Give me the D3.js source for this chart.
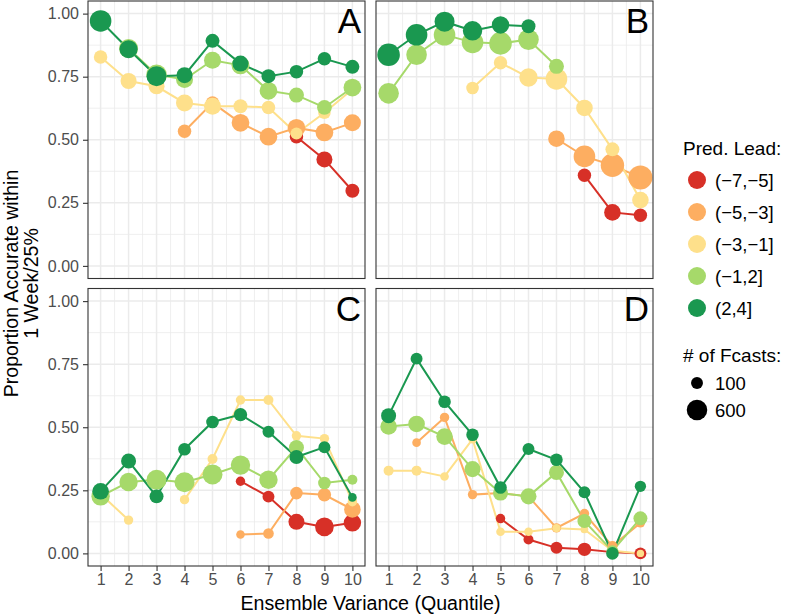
<!DOCTYPE html>
<html>
<head>
<meta charset="utf-8">
<script src="https://cdn.jsdelivr.net/npm/d3@7"></script>
<style>
  html, body { margin: 0; padding: 0; background: #fff; }
  svg { display: block; font-family: "Liberation Sans", Arial, Helvetica, sans-serif; }
</style>
</head>
<body>
<svg id="chart" width="785" height="616"></svg>
<script>
// ---------------- data ----------------
const quantiles = [1, 2, 3, 4, 5, 6, 7, 8, 9, 10];
const leads = ["(\u22127,\u22125]", "(\u22125,\u22123]", "(\u22123,\u22121]", "(\u22121,2]", "(2,4]"];
const leadColors = ["#d73027", "#fdae61", "#fee08b", "#a6d96a", "#1a9850"];
const panelLabels = ["A", "B", "C", "D"];
const yTicks = [0, 0.25, 0.5, 0.75, 1];
const sizeLegend = [100, 600];
const N = null;

// accuracy per lead (rows) x quantile (columns)
const accA = [
  [N, N, N, N, N, N, N, 0.512, 0.422, 0.298],
  [N, N, N, 0.534, 0.646, 0.567, 0.512, 0.547, 0.529, 0.567],
  [0.828, 0.733, 0.712, 0.646, 0.633, 0.633, 0.628, 0.525, 0.607, 0.700],
  [N, 0.862, 0.758, 0.739, 0.815, 0.795, 0.694, 0.677, 0.628, 0.707],
  [0.971, 0.859, 0.752, 0.756, 0.892, 0.802, 0.752, 0.770, 0.821, 0.789]
];
const nA = [
  [N, N, N, N, N, N, N, 160, 285, 180],
  [N, N, N, 160, 160, 390, 390, 390, 390, 345],
  [160, 285, 285, 345, 345, 180, 160, 100, 120, 120],
  [N, 480, 600, 345, 345, 400, 390, 230, 215, 390],
  [690, 410, 555, 285, 180, 285, 180, 160, 160, 180]
];
const accB = [
  [N, N, N, N, N, N, N, 0.359, 0.212, 0.201],
  [N, N, N, N, N, N, 0.504, 0.434, 0.399, 0.350],
  [N, N, N, 0.705, 0.805, 0.747, 0.741, 0.626, 0.462, 0.261],
  [0.684, 0.837, 0.916, 0.886, 0.882, 0.897, 0.791, N, N, N],
  [0.837, 0.916, 0.968, 0.932, 0.955, 0.950, N, N, N, N]
];
const nB = [
  [N, N, N, N, N, N, N, 155, 318, 155],
  [N, N, N, N, N, N, 318, 690, 858, 918],
  [N, N, N, 123, 155, 436, 690, 318, 180, 318],
  [604, 604, 690, 690, 780, 604, 230, N, N, N],
  [780, 690, 555, 510, 368, 180, N, N, N, N]
];
const accC = [
  [N, N, N, N, N, 0.286, 0.225, 0.125, 0.105, 0.121],
  [N, N, N, N, N, 0.075, 0.079, 0.239, 0.232, 0.174],
  [0.235, 0.132, N, 0.213, 0.374, 0.608, 0.608, 0.466, 0.455, 0.205],
  [0.226, 0.283, 0.292, 0.282, 0.313, 0.350, 0.292, 0.420, 0.279, 0.292],
  [0.246, 0.366, 0.226, 0.413, 0.521, 0.550, 0.482, 0.382, 0.421, 0.222]
];
const nC = [
  [N, N, N, N, N, 33, 100, 285, 450, 368],
  [N, N, N, N, N, 19, 60, 123, 155, 318],
  [45, 33, N, 33, 45, 33, 45, 33, 33, 33],
  [436, 436, 555, 555, 555, 510, 436, 230, 123, 45],
  [318, 230, 180, 123, 123, 155, 100, 180, 100, 19]
];
const accD = [
  [N, N, N, N, 0.138, 0.055, 0.022, 0.016, 0.005, 0.000],
  [N, 0.439, 0.539, 0.233, 0.239, 0.226, 0.101, 0.158, 0.029, 0.121],
  [0.328, 0.328, 0.305, 0.453, 0.086, 0.086, 0.100, 0.095, 0.010, 0.000],
  [0.503, 0.513, 0.463, 0.334, 0.239, 0.226, 0.321, 0.128, 0.009, 0.139],
  [0.546, 0.772, 0.601, 0.470, 0.261, 0.414, 0.371, 0.242, 0.000, 0.266]
];
const nD = [
  [N, N, N, N, 33, 45, 100, 155, 80, 100],
  [N, 19, 33, 33, 33, 33, 33, 33, 45, 33],
  [45, 45, 19, 25, 19, 19, 15, 8, 12, 6],
  [318, 318, 318, 285, 230, 285, 230, 180, 100, 180],
  [230, 100, 123, 123, 123, 100, 123, 100, 123, 80]
];

// ---------------- layout ----------------
const svg = d3.select("#chart");
const panelW = 277, panelH = 277.5;
const colX = [88, 376], rowY = [1, 288.5];
const panels = [
  { acc: accA, n: nA, col: 0, row: 0 },
  { acc: accB, n: nB, col: 1, row: 0 },
  { acc: accC, n: nC, col: 0, row: 1 },
  { acc: accD, n: nD, col: 1, row: 1 }
];
const rScale = d3.scalePow().exponent(0.5).domain([0, 800]).range([3, 11.4]);
const gridCol = "#ebebeb";
const tickTextCol = "#4d4d4d";

panels.forEach((p, pi) => {
  const x0 = colX[p.col], y0 = rowY[p.row];
  const x = d3.scaleLinear().domain([0.55, 10.45]).range([x0, x0 + panelW]);
  const y = d3.scaleLinear().domain([-0.05, 1.05]).range([y0 + panelH, y0]);
  const g = svg.append("g");

  // minor grid
  const minorX = d3.range(1.5, 10, 1);
  const minorY = [0.125, 0.375, 0.625, 0.875];
  g.selectAll(".mx").data(minorX).enter().append("line")
    .attr("x1", d => x(d)).attr("x2", d => x(d)).attr("y1", y0).attr("y2", y0 + panelH)
    .attr("stroke", gridCol).attr("stroke-width", 0.8);
  g.selectAll(".my").data(minorY).enter().append("line")
    .attr("y1", d => y(d)).attr("y2", d => y(d)).attr("x1", x0).attr("x2", x0 + panelW)
    .attr("stroke", gridCol).attr("stroke-width", 0.8);
  // major grid
  g.selectAll(".Mx").data(quantiles).enter().append("line")
    .attr("x1", d => x(d)).attr("x2", d => x(d)).attr("y1", y0).attr("y2", y0 + panelH)
    .attr("stroke", gridCol).attr("stroke-width", 1.5);
  g.selectAll(".My").data(yTicks).enter().append("line")
    .attr("y1", d => y(d)).attr("y2", d => y(d)).attr("x1", x0).attr("x2", x0 + panelW)
    .attr("stroke", gridCol).attr("stroke-width", 1.5);

  // lines
  const line = d3.line()
    .defined(d => d.v !== null)
    .x(d => x(d.q)).y(d => y(d.v));
  p.acc.forEach((vals, li) => {
    const pts = quantiles.map((q, i) => ({ q, v: vals[i] }));
    g.append("path").datum(pts)
      .attr("d", line).attr("fill", "none")
      .attr("stroke", leadColors[li]).attr("stroke-width", 2);
  });
  // points
  p.acc.forEach((vals, li) => {
    const pts = quantiles.map((q, i) => ({ q, v: vals[i], n: p.n[li][i] })).filter(d => d.v !== null);
    g.selectAll(null).data(pts).enter().append("circle")
      .attr("cx", d => x(d.q)).attr("cy", d => y(d.v))
      .attr("r", d => rScale(d.n))
      .attr("fill", leadColors[li]);
  });

  // border
  g.append("rect").attr("x", x0).attr("y", y0).attr("width", panelW).attr("height", panelH)
    .attr("fill", "none").attr("stroke", "#333333").attr("stroke-width", 1.1);

  // panel label
  g.append("text").attr("x", x0 + panelW - 4).attr("y", y0 + 32)
    .attr("text-anchor", "end").attr("font-size", 35).attr("fill", "#000")
    .text(panelLabels[pi]);

  // axes
  if (p.col === 0) {
    const ax = g.append("g").attr("transform", `translate(${x0},0)`)
      .call(d3.axisLeft(y).tickValues(yTicks).tickFormat(d3.format(".2f")).tickSize(5).tickPadding(4));
    ax.select(".domain").remove();
    ax.selectAll(".tick line").attr("stroke", "#333333").attr("stroke-width", 1.1);
    ax.selectAll(".tick text").attr("font-size", 16).attr("fill", tickTextCol)
      .attr("font-family", '"Liberation Sans", Arial, sans-serif');
  }
  if (p.row === 1) {
    const ax = g.append("g").attr("transform", `translate(0,${y0 + panelH})`)
      .call(d3.axisBottom(x).tickValues(quantiles).tickFormat(d3.format("d")).tickSize(5).tickPadding(3));
    ax.select(".domain").remove();
    ax.selectAll(".tick line").attr("stroke", "#333333").attr("stroke-width", 1.1);
    ax.selectAll(".tick text").attr("font-size", 16).attr("fill", tickTextCol)
      .attr("font-family", '"Liberation Sans", Arial, sans-serif');
  }
});

// axis titles
svg.append("text").attr("x", (88 + 376 + panelW) / 2).attr("y", 610)
  .attr("text-anchor", "middle").attr("font-size", 19.6).attr("fill", "#000")
  .text("Ensemble Variance (Quantile)");
const yTitle = svg.append("text").attr("transform", "translate(0,283.5) rotate(-90)")
  .attr("text-anchor", "middle").attr("font-size", 19.6).attr("fill", "#000");
yTitle.append("tspan").attr("x", 0).attr("y", 18).text("Proportion Accurate within");
yTitle.append("tspan").attr("x", 0).attr("y", 38).text("1 Week/25%");

// legend: lead colours
const lg = svg.append("g");
lg.append("text").attr("x", 683).attr("y", 155).attr("font-size", 19).attr("fill", "#000").text("Pred. Lead:");
leads.forEach((lab, i) => {
  const cy = 180 + i * 32;
  lg.append("circle").attr("cx", 697).attr("cy", cy).attr("r", 9).attr("fill", leadColors[i]);
  lg.append("text").attr("x", 715).attr("y", cy).attr("dy", "0.36em")
    .attr("font-size", 18.5).attr("fill", "#000").text(lab);
});
// legend: size
lg.append("text").attr("x", 683).attr("y", 362).attr("font-size", 19).attr("fill", "#000").text("# of Fcasts:");
sizeLegend.forEach((v, i) => {
  const cy = 383 + i * 27;
  lg.append("circle").attr("cx", 697).attr("cy", cy).attr("r", rScale(v)).attr("fill", "#000");
  lg.append("text").attr("x", 715).attr("y", cy).attr("dy", "0.36em")
    .attr("font-size", 18.5).attr("fill", "#000").text(v);
});
</script>
</body>
</html>
